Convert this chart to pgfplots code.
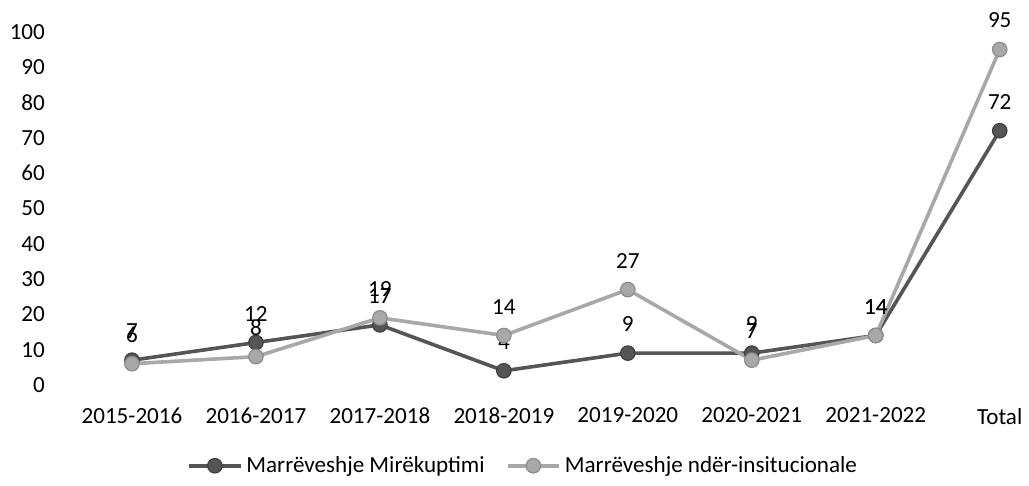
\documentclass[border=0pt]{standalone}
\usepackage{fontspec}
\setmainfont{Carlito}
\usepackage{pgfplots}
\pgfplotsset{compat=1.18}
\definecolor{serdark}{RGB}{85,85,85}
\definecolor{serlight}{RGB}{168,168,168}

\begin{document}
\begin{tikzpicture}
\begin{axis}[
  scale only axis,
  width=15.19cm, height=6.18cm,
  xmin=0, xmax=7, ymin=0, ymax=100,
  xtick={0,...,7},
  xticklabels={2015-2016,2016-2017,2017-2018,2018-2019,2019-2020,2020-2021,2021-2022,Total},
  ytick={0,10,...,100},
  axis line style={draw=none},
  major tick length=0pt,
  clip=false,
  font=\fontsize{11.5}{13}\selectfont,
  /pgf/number format/assume math mode=true,
  yticklabel style={xshift=-1.4cm},
  xticklabel style={yshift=-0.28cm},
  nodes near coords,
  nodes near coords style={font=\fontsize{11.5}{13}\selectfont, text=black, anchor=south, yshift=7pt},
  legend columns=2,
  legend style={at={(0.452,-0.229)}, anchor=center, draw=none, fill=none,
    font=\fontsize{11.5}{13}\selectfont, /tikz/every even column/.append style={column sep=0.3cm}},
  legend image code/.code={
    \draw[#1, mark repeat=2, mark phase=2] plot coordinates {(0cm,0cm) (0.45cm,0cm) (0.9cm,0cm)};
  },
]
\addplot[color=serdark, line width=1.8pt, mark=*, mark size=3.6pt,
  mark options={fill=serdark, draw=black!75, line width=0.6pt}]
  coordinates {(0,7)(1,12)(2,17)(3,4)(4,9)(5,9)(6,14)(7,72)};
\addlegendentry{Marrëveshje Mirëkuptimi}
\addplot[color=serlight, line width=1.8pt, mark=*, mark size=3.6pt,
  mark options={fill=serlight, draw=black!45, line width=0.6pt}]
  coordinates {(0,6)(1,8)(2,19)(3,14)(4,27)(5,7)(6,14)(7,95)};
\addlegendentry{Marrëveshje ndër-insitucionale}
\end{axis}
\useasboundingbox (-2.31,-1.7675) rectangle (15.6975,6.7375);
\end{tikzpicture}
\end{document}
